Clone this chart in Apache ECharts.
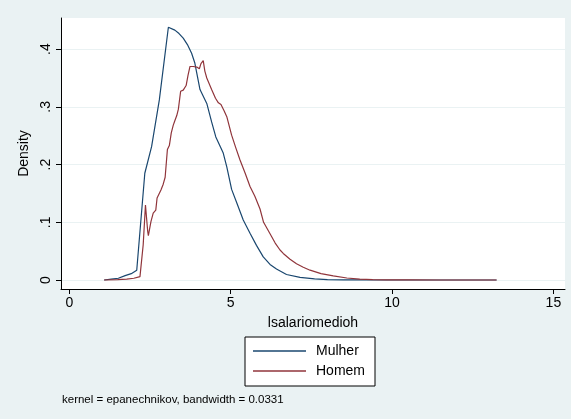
<!DOCTYPE html>
<html>
<head>
<meta charset="utf-8">
<script src="https://cdn.jsdelivr.net/npm/echarts@6/dist/echarts.min.js"></script>
<style>
  html, body { margin: 0; padding: 0; background: #eaf2f3; }
  #chart { width: 571px; height: 419px; }
</style>
</head>
<body>
<div id="chart"></div>
<script>
// kernel density estimates
const mulherX = [1.08, 1.3, 1.52, 1.73, 1.92, 2.09, 2.34, 2.55, 2.79, 3.07, 3.27, 3.4, 3.53, 3.66, 3.79, 3.89, 4.05, 4.26, 4.41, 4.54, 4.77, 4.88, 5.03, 5.2, 5.39, 5.6, 5.8, 6.01, 6.22, 6.42, 6.73, 7.15, 7.6, 8.0, 8.5, 9.2, 10, 11, 12, 13.24]
const mulherY = [0, 0.0015, 0.003, 0.0075, 0.011, 0.017, 0.185, 0.231, 0.312, 0.438, 0.433, 0.427, 0.419, 0.408, 0.393, 0.376, 0.330, 0.306, 0.274, 0.248, 0.220, 0.196, 0.157, 0.132, 0.104, 0.081, 0.060, 0.040, 0.027, 0.019, 0.0095, 0.0045, 0.0018, 0.0007, 0.0003, 0.0001, 0, 0, 0, 0]

const homemX = [1.08, 1.5, 1.78, 2.0, 2.19, 2.24, 2.29, 2.36, 2.43, 2.45, 2.53, 2.6, 2.68, 2.72, 2.78, 2.84, 2.91, 2.97, 3.04, 3.1, 3.16, 3.22, 3.27, 3.33, 3.38, 3.45, 3.53, 3.62, 3.68, 3.74, 3.84, 3.95, 4.03, 4.08, 4.15, 4.2, 4.26, 4.41, 4.53, 4.62, 4.7, 4.8, 4.88, 5.03, 5.16, 5.29, 5.45, 5.6, 5.75, 5.91, 6.02, 6.22, 6.38, 6.53, 6.63, 6.84, 7.04, 7.25, 7.46, 7.8, 8.18, 8.6, 9.0, 9.4, 9.83, 10.5, 11.5, 12.5, 13.24]
const homemY = [0, 0.0008, 0.0015, 0.003, 0.0058, 0.009, 0.061, 0.130, 0.084, 0.077, 0.101, 0.116, 0.121, 0.142, 0.149, 0.156, 0.166, 0.178, 0.226, 0.233, 0.255, 0.268, 0.276, 0.285, 0.296, 0.327, 0.329, 0.337, 0.355, 0.370, 0.370, 0.369, 0.366, 0.375, 0.380, 0.362, 0.350, 0.330, 0.315, 0.307, 0.304, 0.293, 0.283, 0.251, 0.229, 0.208, 0.185, 0.162, 0.145, 0.123, 0.100, 0.080, 0.064, 0.052, 0.046, 0.036, 0.028, 0.022, 0.017, 0.011, 0.007, 0.0035, 0.0015, 0.0007, 0.0003, 0.0001, 0, 0, 0]

const xTicks = [0, 5, 10, 15]
const yTicks = [0, 0.1, 0.2, 0.3, 0.4]

const font = 'Liberation Sans, Arial, Helvetica, sans-serif'
const pair = (xs, ys) => xs.map((x, i) => [x, ys[i]])

const chart = echarts.init(document.getElementById('chart'))
chart.setOption({
  backgroundColor: '#eaf2f3',
  animation: false,
  textStyle: { fontFamily: font, color: '#000' },
  title: {
    text: 'kernel = epanechnikov, bandwidth = 0.0331',
    left: 57,
    top: 389,
    textStyle: { fontSize: 11.5, fontWeight: 'normal', color: '#000', fontFamily: font }
  },
  grid: {
    left: 61, right: 6, top: 18, bottom: 130,
    show: true, backgroundColor: '#fff', borderWidth: 0
  },
  legend: {
    orient: 'vertical',
    left: 245, top: 337,
    padding: [6, 10, 7, 8],
    backgroundColor: '#fff',
    borderColor: '#000',
    borderWidth: 1,
    borderRadius: 0,
    icon: 'rect',
    itemWidth: 53, itemHeight: 1.3, itemGap: 4,
    textStyle: { fontSize: 14, lineHeight: 16, color: '#000', fontFamily: font, padding: [0, 0, 0, 5] },
    data: ['Mulher', 'Homem']
  },
  xAxis: {
    type: 'value',
    min: -0.257, max: 15.36,
    name: 'lsalariomedioh',
    nameLocation: 'middle',
    nameGap: 27,
    nameTextStyle: { fontSize: 14, color: '#000' },
    axisLine: { onZero: false, lineStyle: { color: '#000', width: 1 } },
    axisTick: { customValues: xTicks, length: 5, lineStyle: { color: '#000' } },
    axisLabel: { customValues: xTicks, fontSize: 14, color: '#000', margin: 7 },
    splitLine: { show: false }
  },
  yAxis: {
    type: 'value',
    min: -0.0156, max: 0.454,
    name: 'Density',
    nameLocation: 'middle',
    nameGap: 27,
    nameTextStyle: { fontSize: 14, color: '#000' },
    axisLine: { show: true, onZero: false, lineStyle: { color: '#000', width: 1 } },
    axisTick: { show: true, customValues: yTicks, length: 5, lineStyle: { color: '#000' } },
    axisLabel: {
      customValues: yTicks, rotate: 90, fontSize: 14, color: '#000', margin: 8,
      formatter: v => v === 0 ? '0' : String(v).replace(/^0/, '')
    },
    splitLine: { show: true, lineStyle: { color: '#eaf2f3', width: 1 } }
  },
  series: [
    {
      name: 'Mulher', type: 'line', symbol: 'none',
      lineStyle: { color: '#1a476f', width: 1.2 }, itemStyle: { color: '#1a476f' },
      data: pair(mulherX, mulherY)
    },
    {
      name: 'Homem', type: 'line', symbol: 'none',
      lineStyle: { color: '#90353b', width: 1.2 }, itemStyle: { color: '#90353b' },
      data: pair(homemX, homemY)
    }
  ]
})
</script>
</body>
</html>
